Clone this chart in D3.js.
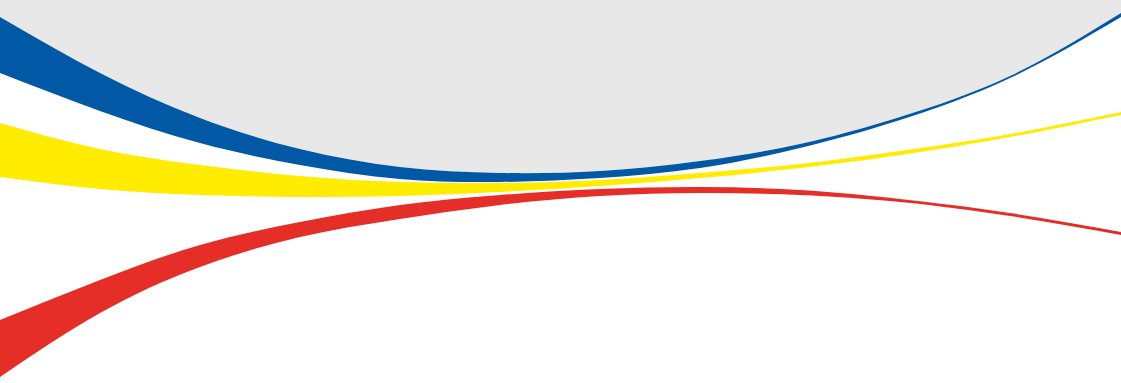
<!DOCTYPE html>
<html>
<head>
<meta charset="utf-8">
<script src="https://cdn.jsdelivr.net/npm/d3@7/dist/d3.min.js"></script>
<style>
  html, body { margin: 0; padding: 0; background: #fff; }
  svg { display: block; }
</style>
</head>
<body>
<div id="chart"></div>
<script>
// sample stations along the width, and band edges
const STATIONS = [0, 100, 200, 300, 400, 500, 600, 700, 800, 900, 1010, 1121];

const BLUE_TOP    = [17, 73, 118, 149, 167, 173, 171, 161, 144, 117, 76, 13];
const BLUE_BOTTOM = [73, 111, 143, 165, 179, 182, 178, 168, 148, 120, 78, 17];

const YELLOW_TOP    = [123, 149, 165, 176, 182, 183, 180, 173, 164, 151, 134, 112];
const YELLOW_BOTTOM = [177, 189, 195, 197, 196, 192, 186, 178, 168, 155, 137, 115];

const RED_TOP    = [320, 280, 245, 222, 205, 195, 189, 187, 190, 199, 213, 232];
const RED_BOTTOM = [377, 313, 267, 237, 219, 205, 196, 193, 195, 202, 216, 235];

const width = 1121, height = 383;

const x = d3.scaleLinear().domain([0, 1121]).range([0, width]);
const y = d3.scaleLinear().domain([0, 383]).range([0, height]);

const svg = d3.select('#chart').append('svg')
  .attr('width', width).attr('height', height);

svg.append('rect').attr('width', width).attr('height', height).attr('fill', '#fff');

function band(top, bottom) {
  return STATIONS.map((s, i) => ({ s, t: top[i], b: bottom[i] }));
}

const areaGen = d3.area()
  .x(d => x(d.s))
  .y0(d => y(d.t))
  .y1(d => y(d.b))
  .curve(d3.curveNatural);

// grey cap above the blue band
svg.append('path')
  .datum(band(STATIONS.map(() => 0), BLUE_TOP))
  .attr('fill', '#e8e8e8')
  .attr('d', areaGen);

const bands = [
  { name: 'blue',   color: '#0159a5', top: BLUE_TOP,   bottom: BLUE_BOTTOM },
  { name: 'yellow', color: '#ffec00', top: YELLOW_TOP, bottom: YELLOW_BOTTOM },
  { name: 'red',    color: '#e52e27', top: RED_TOP,    bottom: RED_BOTTOM }
];

bands.forEach(b => {
  svg.append('path')
    .datum(band(b.top, b.bottom))
    .attr('class', 'band ' + b.name)
    .attr('fill', b.color)
    .attr('d', areaGen);
});
</script>
</body>
</html>
